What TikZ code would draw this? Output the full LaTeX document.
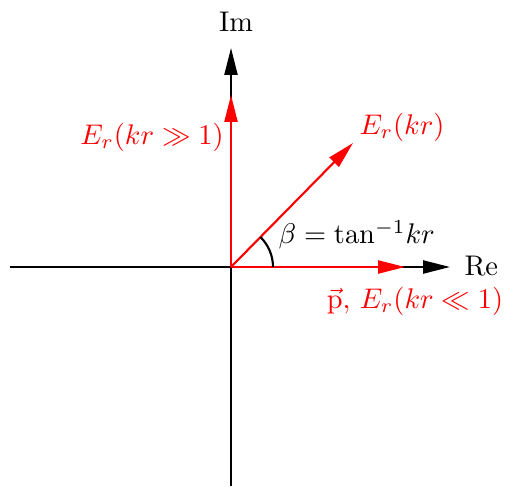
\documentclass[tikz,border=0pt]{standalone}
\usepackage{amsmath}
\usetikzlibrary{arrows.meta}

\begin{document}
\begin{tikzpicture}[
    x=0.352pt, y=0.352pt,
    axis/.style={-{Triangle[length=9.5pt, width=4.6pt]}, line width=0.75pt},
    field/.style={-{Triangle[length=9.5pt, width=4.6pt]}, line width=0.75pt, red},
    lbl/.style={inner sep=0pt, text=red}
]
\useasboundingbox (-231,-219) rectangle (276,267);

\coordinate (origin) at (0,0);
\coordinate (left) at (-221,0);
\coordinate (right) at (219,0);
\coordinate (bottom) at (0,-219);
\coordinate (top) at (0,219);
\coordinate (far) at (0,172);
\coordinate (near) at (174,0);
\coordinate (mid) at (122,124);

\node (im) at (5,245) {Im};
\node[anchor=west, inner sep=0pt] (re) at (233,1) {Re};

\draw[line width=0.75pt] (left) -- (origin);
\draw[axis] (origin) -- (right);
\draw[line width=0.75pt] (bottom) -- (origin);
\draw[axis] (origin) -- (top);

\draw[field] (origin) -- (far);
\draw[field] (origin) -- (near);
\draw[field] (origin) -- (mid);

\draw[line width=0.75pt] (42,0) arc[start angle=0, end angle=45.5, radius=42];

\node[lbl] (strong) at (-79,130) {$E_r(kr \gg 1)$};
\node[lbl] (general) at (171,140) {$E_r(kr)$};
\node[lbl] (weak) at (184,-34) {$\vec{\mathrm{p}},\, E_r(kr \ll 1)$};
\node[anchor=west, inner sep=0pt] (beta) at (47,32) {$\beta = \mathrm{tan}^{-1}kr$};

\end{tikzpicture}
\end{document}
